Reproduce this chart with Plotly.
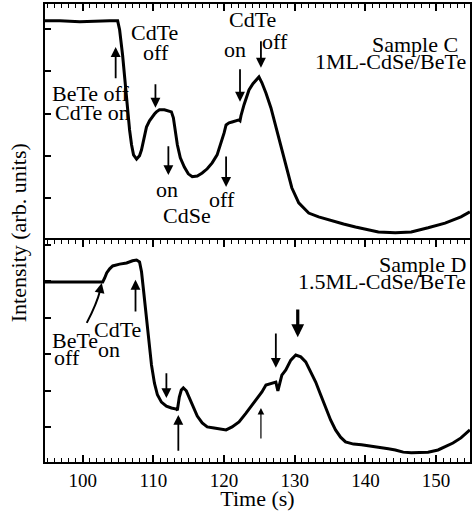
import plotly.graph_objects as go

# Sample C (top panel): time (s) and intensity (arb. units)
time_c = [94.65, 96.76, 99.58, 102.39, 103.80, 104.93, 105.21, 105.63, 106.06, 106.34,
          106.62, 106.90, 107.18, 107.61, 108.03, 108.31, 108.73, 109.01, 109.44, 109.72,
          110.14, 110.42, 110.85, 111.55, 112.25, 112.54, 112.82, 113.10, 113.38, 113.80,
          114.37, 114.93, 115.49, 116.20, 116.90, 117.61, 118.31, 119.01, 119.58, 120.00,
          120.28, 120.70, 121.13, 121.69, 122.11, 122.25, 122.39, 122.82, 123.24, 123.52,
          124.08, 124.51, 124.93, 125.35, 125.92, 126.62, 127.32, 128.03, 128.73, 129.58,
          130.56, 131.97, 133.38, 134.79, 136.90, 138.59, 140.42, 141.83, 144.23, 146.48,
          148.87, 151.27, 153.52, 154.79]
int_c = [5.20, 5.20, 5.18, 5.20, 5.20, 5.20, 4.99, 4.39, 3.56, 3.09,
         2.61, 2.26, 2.02, 1.92, 2.00, 2.14, 2.45, 2.68, 2.83, 2.90,
         2.99, 3.04, 3.09, 3.09, 3.06, 3.04, 2.90, 2.61, 2.26, 1.95,
         1.73, 1.57, 1.50, 1.52, 1.59, 1.69, 1.83, 2.02, 2.30, 2.54,
         2.73, 2.78, 2.80, 2.83, 2.85, 2.83, 2.95, 3.21, 3.44, 3.56,
         3.71, 3.80, 3.87, 3.73, 3.49, 3.14, 2.68, 2.24, 1.81, 1.24,
         0.88, 0.64, 0.55, 0.48, 0.38, 0.31, 0.24, 0.19, 0.17, 0.19,
         0.29, 0.40, 0.55, 0.67]

# Sample D (bottom panel)
time_d = [94.65, 98.17, 100.99, 102.82, 103.10, 103.38, 103.80, 104.23, 105.21, 106.20,
          107.04, 107.61, 108.03, 108.31, 108.59, 109.01, 109.44, 109.72, 110.14, 110.56,
          111.13, 111.83, 112.54, 113.24, 113.38, 113.66, 113.94, 114.23, 114.65, 115.07,
          115.63, 116.20, 116.90, 117.61, 118.59, 119.58, 120.28, 121.13, 122.11, 123.10,
          124.23, 125.35, 125.92, 126.62, 127.32, 127.61, 128.17, 128.73, 129.44, 130.14,
          130.85, 131.55, 132.25, 132.96, 133.66, 134.37, 135.07, 135.77, 136.48, 137.18,
          138.31, 139.44, 140.70, 141.83, 143.24, 144.23, 145.35, 146.48, 147.75, 148.87,
          150.28, 151.27, 152.39, 153.52, 154.79]
int_d = [4.93, 4.93, 4.93, 4.93, 5.04, 5.18, 5.29, 5.37, 5.42, 5.45,
         5.51, 5.53, 5.48, 5.21, 4.71, 3.89, 3.21, 2.66, 2.16, 1.84,
         1.64, 1.53, 1.48, 1.45, 1.42, 1.78, 1.97, 2.03, 1.95, 1.75,
         1.48, 1.26, 1.07, 0.96, 0.93, 0.90, 0.88, 0.96, 1.10, 1.34,
         1.64, 1.92, 2.11, 2.16, 2.19, 1.95, 2.38, 2.52, 2.79, 2.93,
         2.88, 2.74, 2.47, 2.19, 1.84, 1.51, 1.15, 0.88, 0.68, 0.55,
         0.49, 0.47, 0.44, 0.41, 0.36, 0.33, 0.27, 0.25, 0.25, 0.27,
         0.33, 0.41, 0.52, 0.66, 0.88]

FONT = "Liberation Serif"
SPLIT = 0.4847

fig = go.Figure()
fig.add_trace(go.Scatter(x=time_c, y=int_c, mode="lines", xaxis="x", yaxis="y",
                         line=dict(color="black", width=3), showlegend=False))
fig.add_trace(go.Scatter(x=time_d, y=int_d, mode="lines", xaxis="x2", yaxis="y2",
                         line=dict(color="black", width=3), showlegend=False))

xcommon = dict(range=[94.65, 154.8], showgrid=False, zeroline=False, showline=True,
               linecolor="black", linewidth=2, ticks="inside", ticklen=7, tickwidth=1.5,
               tickcolor="black", dtick=10, tick0=0,
               minor=dict(ticks="inside", ticklen=4, dtick=1, tickwidth=1.2, tickcolor="black"))
ycommon = dict(showgrid=False, zeroline=False, showline=True, linecolor="black", linewidth=2,
               ticks="inside", ticklen=6, tickwidth=1.5, tickcolor="black",
               showticklabels=False, mirror=True, dtick=1)

fig.update_layout(
    width=474, height=511,
    margin=dict(l=45, r=2, t=4, b=49),
    paper_bgcolor="white", plot_bgcolor="white",
    font=dict(family=FONT, color="black", size=19),
    xaxis=dict(xcommon, domain=[0, 1], anchor="y", side="top", showticklabels=False),
    yaxis=dict(ycommon, domain=[SPLIT, 1], anchor="x", range=[0, 5.6], tick0=0),
    xaxis2=dict(xcommon, domain=[0, 1], anchor="y2", mirror="ticks",
                tickfont=dict(size=19, family=FONT),
                title=dict(text="Time (s)", font=dict(size=22, family=FONT), standoff=0)),
    yaxis2=dict(ycommon, domain=[0, SPLIT], anchor="x2", range=[0, 6.08], tick0=0.95),
)

# y-axis title spanning both panels
fig.add_annotation(text="Intensity (arb. units)", xref="paper", yref="paper",
                   x=-0.063, y=0.5, textangle=-90, showarrow=False,
                   font=dict(size=22, family=FONT), xanchor="center", yanchor="middle")

# text labels: (text, x, y, xanchor, panel)
labels = [
    ("BeTe off", 95.35, 3.47, "left", 1),
    ("CdTe on", 95.77, 3.02, "left", 1),
    ("CdTe", 110.14, 4.92, "center", 1),
    ("off", 110.42, 4.44, "center", 1),
    ("on", 111.97, 1.19, "center", 1),
    ("CdSe", 114.79, 0.59, "center", 1),
    ("off", 119.72, 0.95, "center", 1),
    ("CdTe", 124.08, 5.23, "center", 1),
    ("on", 121.55, 4.51, "center", 1),
    ("off", 127.18, 4.70, "center", 1),
    ("Sample C", 153.38, 4.63, "right", 1),
    ("1ML-CdSe/BeTe", 154.51, 4.23, "right", 1),
    ("BeTe", 95.35, 3.34, "left", 2),
    ("off", 95.63, 2.85, "left", 2),
    ("CdTe", 104.93, 3.62, "center", 2),
    ("on", 103.66, 3.07, "center", 2),
    ("Sample D", 154.51, 5.40, "right", 2),
    ("1.5ML-CdSe/BeTe", 154.51, 4.93, "right", 2),
]
for txt, lx, ly, anc, p in labels:
    fig.add_annotation(text=txt, x=lx, y=ly, xref="x" if p == 1 else "x2",
                       yref="y" if p == 1 else "y2", showarrow=False,
                       xanchor=anc, yanchor="middle", font=dict(size=22, family=FONT))

# arrows: (x, tail y, head y, width, panel)
arrows = [
    (104.65, 3.80, 4.58, 1.8, 1),
    (110.28, 3.73, 3.14, 1.8, 1),
    (112.11, 2.26, 1.54, 1.8, 1),
    (120.28, 2.02, 1.26, 1.8, 1),
    (122.25, 4.09, 3.28, 1.8, 1),
    (125.21, 4.75, 4.09, 1.8, 1),
    (107.46, 4.08, 4.99, 1.8, 2),
    (111.83, 2.47, 1.75, 1.8, 2),
    (113.52, 0.27, 1.29, 1.8, 2),
    (125.21, 0.60, 1.48, 1.2, 2),
    (127.32, 3.56, 2.58, 1.8, 2),
    (130.42, 4.22, 3.42, 3.2, 2),
]
for ax_, ty, hy, w, p in arrows:
    xr = "x" if p == 1 else "x2"
    yr = "y" if p == 1 else "y2"
    fig.add_annotation(text="", x=ax_, y=hy, ax=ax_, ay=ty, xref=xr, yref=yr,
                       axref=xr, ayref=yr, showarrow=True, arrowhead=2,
                       arrowsize=1.1 if w < 3 else 0.8, arrowwidth=w, arrowcolor="black",
                       standoff=0, startstandoff=0)

# curved arrow for "BeTe off" in panel D
fig.add_shape(type="path", xref="x2", yref="y2",
              path="M 100.56,3.81 Q 102.0,4.35 102.45,4.70",
              line=dict(color="black", width=2))
fig.add_annotation(text="", x=102.68, y=4.90, ax=102.35, ay=4.62, xref="x2", yref="y2",
                   axref="x2", ayref="y2", showarrow=True, arrowhead=2, arrowsize=1.1,
                   arrowwidth=1.8, arrowcolor="black", standoff=0)

# page body has a default 8px margin; drop it so the figure sits at the corner
fig.write_html("out.html", config={"displayModeBar": False},
               post_script="document.body.style.margin='0';")
